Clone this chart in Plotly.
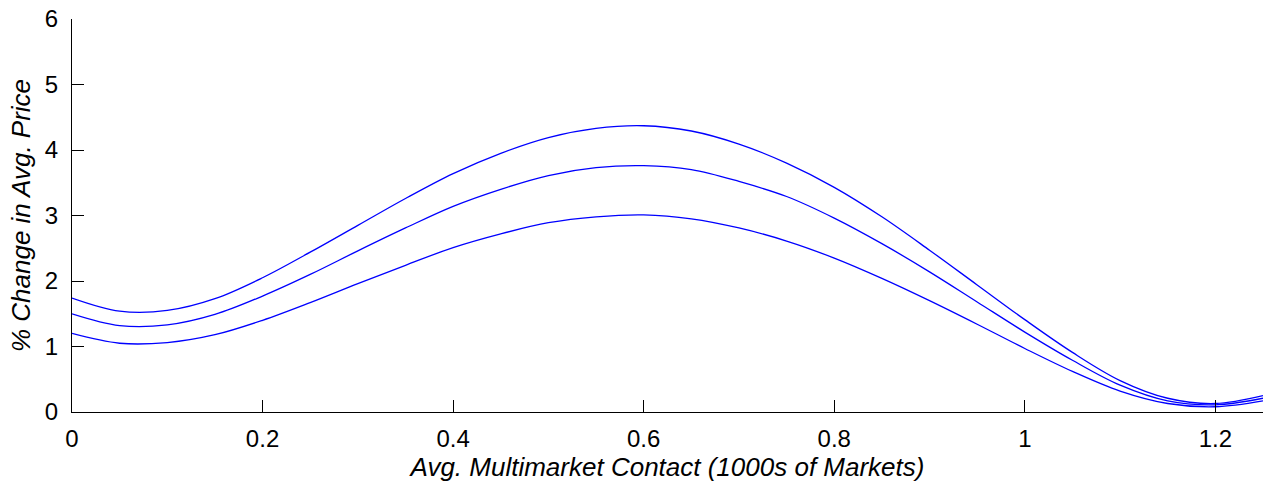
import plotly.graph_objects as go

x_vals = [0.0, 0.05, 0.10, 0.15, 0.20, 0.25, 0.30, 0.35, 0.40, 0.45, 0.50, 0.55, 0.60,
          0.65, 0.70, 0.75, 0.80, 0.85, 0.90, 0.95, 1.00, 1.05, 1.10, 1.15, 1.20, 1.25]
upper = [1.74, 1.54, 1.55, 1.73, 2.05, 2.44, 2.85, 3.26, 3.64, 3.95, 4.19, 4.33, 4.37,
         4.29, 4.09, 3.80, 3.43, 2.98, 2.47, 1.94, 1.41, 0.91, 0.48, 0.21, 0.13, 0.25]
middle = [1.50, 1.32, 1.33, 1.49, 1.77, 2.10, 2.46, 2.81, 3.14, 3.40, 3.61, 3.73, 3.76,
          3.70, 3.52, 3.29, 2.96, 2.57, 2.14, 1.68, 1.22, 0.79, 0.41, 0.17, 0.11, 0.21]
lower = [1.20, 1.05, 1.06, 1.18, 1.40, 1.67, 1.96, 2.24, 2.51, 2.72, 2.89, 2.98, 3.01,
         2.95, 2.81, 2.61, 2.35, 2.04, 1.70, 1.34, 0.97, 0.62, 0.32, 0.13, 0.08, 0.17]

x_ticks = [0, 0.2, 0.4, 0.6, 0.8, 1, 1.2]
x_tick_text = ["0", "0.2", "0.4", "0.6", "0.8", "1", "1.2"]
y_ticks = [0, 1, 2, 3, 4, 5, 6]

fig = go.Figure()
for ys in (upper, middle, lower):
    fig.add_trace(go.Scatter(x=x_vals, y=ys, mode="lines",
                             line=dict(color="#0000ff", width=1.3, shape="spline", smoothing=1.0),
                             showlegend=False, hoverinfo="skip"))

font_family = "Liberation Sans, Arial, Helvetica, sans-serif"
fig.update_layout(
    width=1270, height=491,
    margin=dict(l=72, r=7, t=19, b=79, autoexpand=False),
    paper_bgcolor="white", plot_bgcolor="white",
    font=dict(family=font_family, size=24, color="black"),
    xaxis=dict(range=[0, 1.25], tickvals=x_ticks, ticktext=x_tick_text,
               ticks="inside", ticklen=12, tickcolor="black", tickwidth=1,
               ticklabelstandoff=5,
               showline=True, linecolor="black", linewidth=1, showgrid=False,
               zeroline=False, mirror=False, automargin=False,
               title=dict(text="<i>Avg. Multimarket Contact (1000s of Markets)</i>",
                          font=dict(size=26), standoff=6)),
    yaxis=dict(range=[0, 6], tickvals=y_ticks,
               ticks="inside", ticklen=12, tickcolor="black", tickwidth=1,
               ticklabelstandoff=8,
               showline=True, linecolor="black", linewidth=1, showgrid=False,
               zeroline=False, mirror=False, automargin=False,
               title=dict(text="<i>% Change in Avg. Price</i>",
                          font=dict(size=26), standoff=6)),
)

fig.write_html("out.html", config={"displayModeBar": False},
               post_script="document.body.style.margin='0';document.body.style.padding='0';")
